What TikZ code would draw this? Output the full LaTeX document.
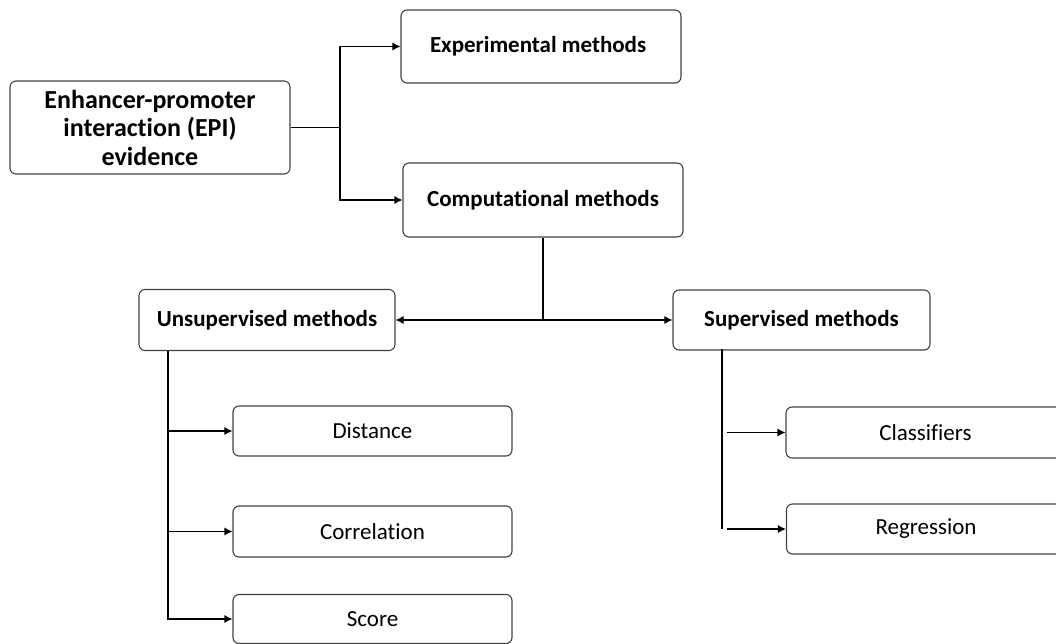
\documentclass[tikz,border=0pt]{standalone}
\usepackage{fontspec}
\setmainfont[Ligatures=NoCommon]{Carlito}
\usetikzlibrary{arrows.meta}

\tikzset{
  box/.style={draw=black!75, line width=1.1pt, rounded corners=6pt, inner sep=0pt, align=center},
  head/.style={box, minimum width=280pt, font=\fontsize{23}{27}\selectfont\bfseries},
  leaf/.style={box, minimum width=279pt, minimum height=50pt, font=\fontsize{23}{26}\selectfont},
  link/.style={line width=1.1pt, -{Latex[length=8pt,width=8pt]}},
}

\begin{document}
\begin{tikzpicture}[x=1pt,y=-1pt]
\useasboundingbox (0,0) rectangle (1056,644);

% top level
\node[head, minimum height=93pt, font=\fontsize{26}{28.5}\selectfont\bfseries] (epi) at (150,127.5) {Enhancer-promoter\\interaction (EPI)\\evidence};
\node[head, minimum height=73pt, text width=222pt, align=flush left] (exp) at (541,46.5) {Experimental methods};
\node[head, minimum height=74pt] (comp) at (543,200) {Computational methods};

% second level
\node[head, minimum width=256pt, minimum height=61pt] (unsup) at (267,320) {Unsupervised methods};
\node[head, minimum width=257pt, minimum height=60pt] (sup) at (801.5,320) {Supervised methods};

% leaves
\node[leaf] (dist) at (372.5,431) {Distance};
\node[leaf, minimum height=51pt] (corr) at (372.5,531.5) {Correlation};
\node[leaf, minimum height=49pt] (score) at (372.5,619) {Score};
\node[leaf, minimum height=51pt] (clas) at (925.5,432.5) {Classifiers};
\node[leaf] (regr) at (926,529) {Regression};

% connectors
\coordinate (split1) at (340,127.5);
\draw[line width=1.1pt] (epi.east) -- (split1);
\draw[link] (split1) |- (exp.west);
\draw[link] (split1) |- (comp.west);

\coordinate (split2) at (543,320);
\draw[line width=1.1pt] (comp.south) -- (split2);
\draw[link] (split2) -- (unsup.east);
\draw[link] (split2) -- (sup.west);

\coordinate (utop) at (168,351);
\draw[link] (utop) |- (score.west);
\draw[link] (utop |- dist.west) -- (dist.west);
\draw[link] (utop |- corr.west) -- (corr.west);

\coordinate (stop) at (722,349);
\coordinate (sbot) at (722,529);
\draw[line width=1.1pt] (stop) -- (sbot);
\draw[link] ([xshift=5pt]stop |- clas.west) -- (clas.west);
\draw[link] ([xshift=5pt]sbot) -- (regr.west);
\end{tikzpicture}
\end{document}
